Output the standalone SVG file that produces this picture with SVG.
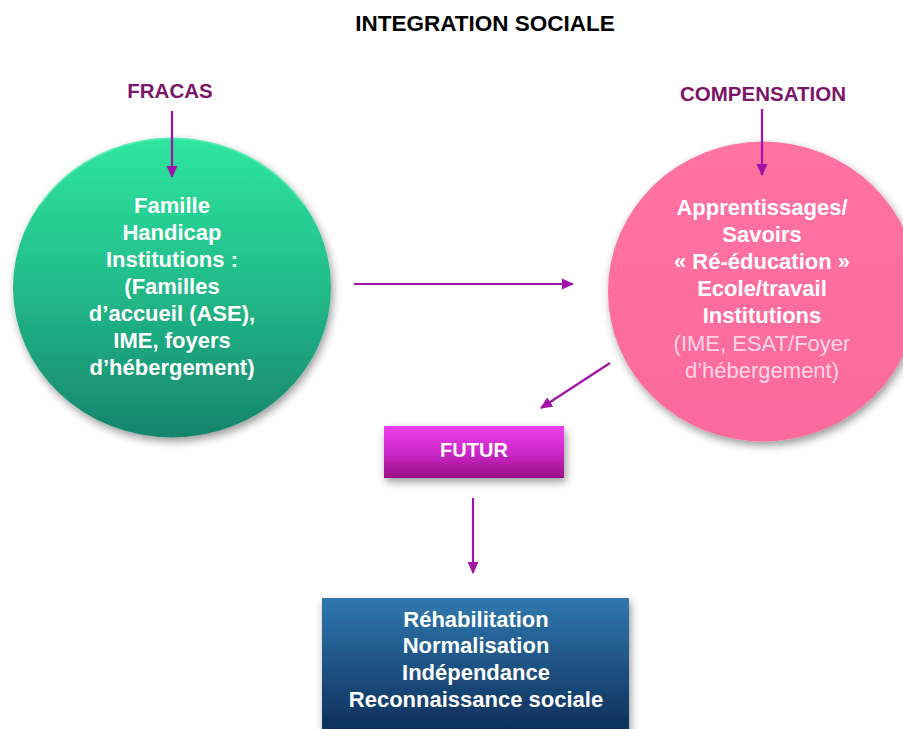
<svg xmlns="http://www.w3.org/2000/svg" width="903" height="729" viewBox="0 0 903 729">
<defs>
  <style>
    .lbl{font-family:"Liberation Sans",Arial,sans-serif;font-weight:bold;text-anchor:middle}
    .title{font-size:22.5px;fill:#000}
    .top{font-size:20.5px;fill:#7b1568}
    .in{font-size:22px;fill:#ffffff}
    .reg{font-family:"Liberation Sans",Arial,sans-serif;font-weight:normal;font-size:22px;fill:#fcd6e5;text-anchor:middle}
    .conn{stroke:#a012a8;stroke-width:2.2;fill:none;marker-end:url(#ah)}
  </style>
  <marker id="ah" viewBox="0 0 12 12" refX="11" refY="6" markerWidth="12" markerHeight="12" markerUnits="userSpaceOnUse" orient="auto">
    <path d="M0,0.5 L12,6 L0,11.5 Z" fill="#a012a8"/>
  </marker>
  <linearGradient id="gG" x1="0" y1="0" x2="0" y2="1">
    <stop offset="0" stop-color="#2fe6a0"/>
    <stop offset="0.45" stop-color="#23c08c"/>
    <stop offset="1" stop-color="#17846c"/>
  </linearGradient>
  <linearGradient id="gP" x1="0" y1="0" x2="0" y2="1">
    <stop offset="0" stop-color="#ff72a2"/>
    <stop offset="1" stop-color="#fb6a9c"/>
  </linearGradient>
  <linearGradient id="gF" x1="0" y1="0" x2="0" y2="1">
    <stop offset="0" stop-color="#ee3ff0"/>
    <stop offset="0.5" stop-color="#cc28c8"/>
    <stop offset="1" stop-color="#9c1088"/>
  </linearGradient>
  <linearGradient id="gB" x1="0" y1="0" x2="0" y2="1">
    <stop offset="0" stop-color="#3079b0"/>
    <stop offset="1" stop-color="#0c2a55"/>
  </linearGradient>
  <filter id="sh" x="-10%" y="-10%" width="125%" height="130%">
    <feDropShadow dx="2" dy="4" stdDeviation="4" flood-color="#000" flood-opacity="0.4"/>
  </filter>
</defs>
<rect width="903" height="729" fill="#ffffff"/>

<g id="title">
  <text class="lbl title" x="485" y="31">INTEGRATION SOCIALE</text>
</g>

<g id="fracas">
  <text class="lbl top" x="170" y="98">FRACAS</text>
</g>

<g id="compensation">
  <text class="lbl top" x="763" y="101">COMPENSATION</text>
</g>

<g id="circle-left">
  <ellipse cx="172" cy="287.5" rx="159" ry="150" fill="url(#gG)" filter="url(#sh)"/>
  <path d="M40,205 A159,150 0 0 1 304,205" fill="none" stroke="#7ff5c8" stroke-width="1.5" opacity="0.5"/>
  <text class="lbl in" x="172" y="213">Famille</text>
  <text class="lbl in" x="172" y="240">Handicap</text>
  <text class="lbl in" x="172" y="267">Institutions :</text>
  <text class="lbl in" x="172" y="294">(Familles</text>
  <text class="lbl in" x="172" y="321">d’accueil (ASE),</text>
  <text class="lbl in" x="172" y="348">IME, foyers</text>
  <text class="lbl in" x="172" y="375">d’hébergement)</text>
</g>

<g id="circle-right">
  <ellipse cx="763" cy="291.5" rx="155" ry="150" fill="url(#gP)" filter="url(#sh)"/>
  <text class="lbl in" x="762" y="215">Apprentissages/</text>
  <text class="lbl in" x="762" y="242">Savoirs</text>
  <text class="lbl in" x="762" y="269">« Ré-éducation »</text>
  <text class="lbl in" x="762" y="296">Ecole/travail</text>
  <text class="lbl in" x="762" y="323">Institutions</text>
  <text class="reg" x="762" y="351">(IME, ESAT/Foyer</text>
  <text class="reg" x="762" y="378">d’hébergement)</text>
</g>

<g id="futur">
  <rect x="384" y="426" width="180" height="52" fill="url(#gF)" filter="url(#sh)"/>
  <text class="lbl" x="474" y="457" font-size="20" fill="#ffffff">FUTUR</text>
</g>

<g id="result">
  <rect x="322" y="598" width="307" height="140" fill="url(#gB)" filter="url(#sh)"/>
  <text class="lbl in" x="476" y="627" fill="#eef2f6">Réhabilitation</text>
  <text class="lbl in" x="476" y="653" fill="#eef2f6">Normalisation</text>
  <text class="lbl in" x="476" y="680" fill="#eef2f6">Indépendance</text>
  <text class="lbl in" x="476" y="707" fill="#eef2f6">Reconnaissance sociale</text>
</g>

<g id="connectors">
  <line class="conn" x1="172" y1="111" x2="172" y2="177"/>
  <line class="conn" x1="762" y1="109" x2="762" y2="175"/>
  <line class="conn" x1="354" y1="284" x2="573" y2="284"/>
  <line class="conn" x1="610" y1="363" x2="541" y2="408"/>
  <line class="conn" x1="473" y1="498" x2="473" y2="573"/>
</g>
</svg>
